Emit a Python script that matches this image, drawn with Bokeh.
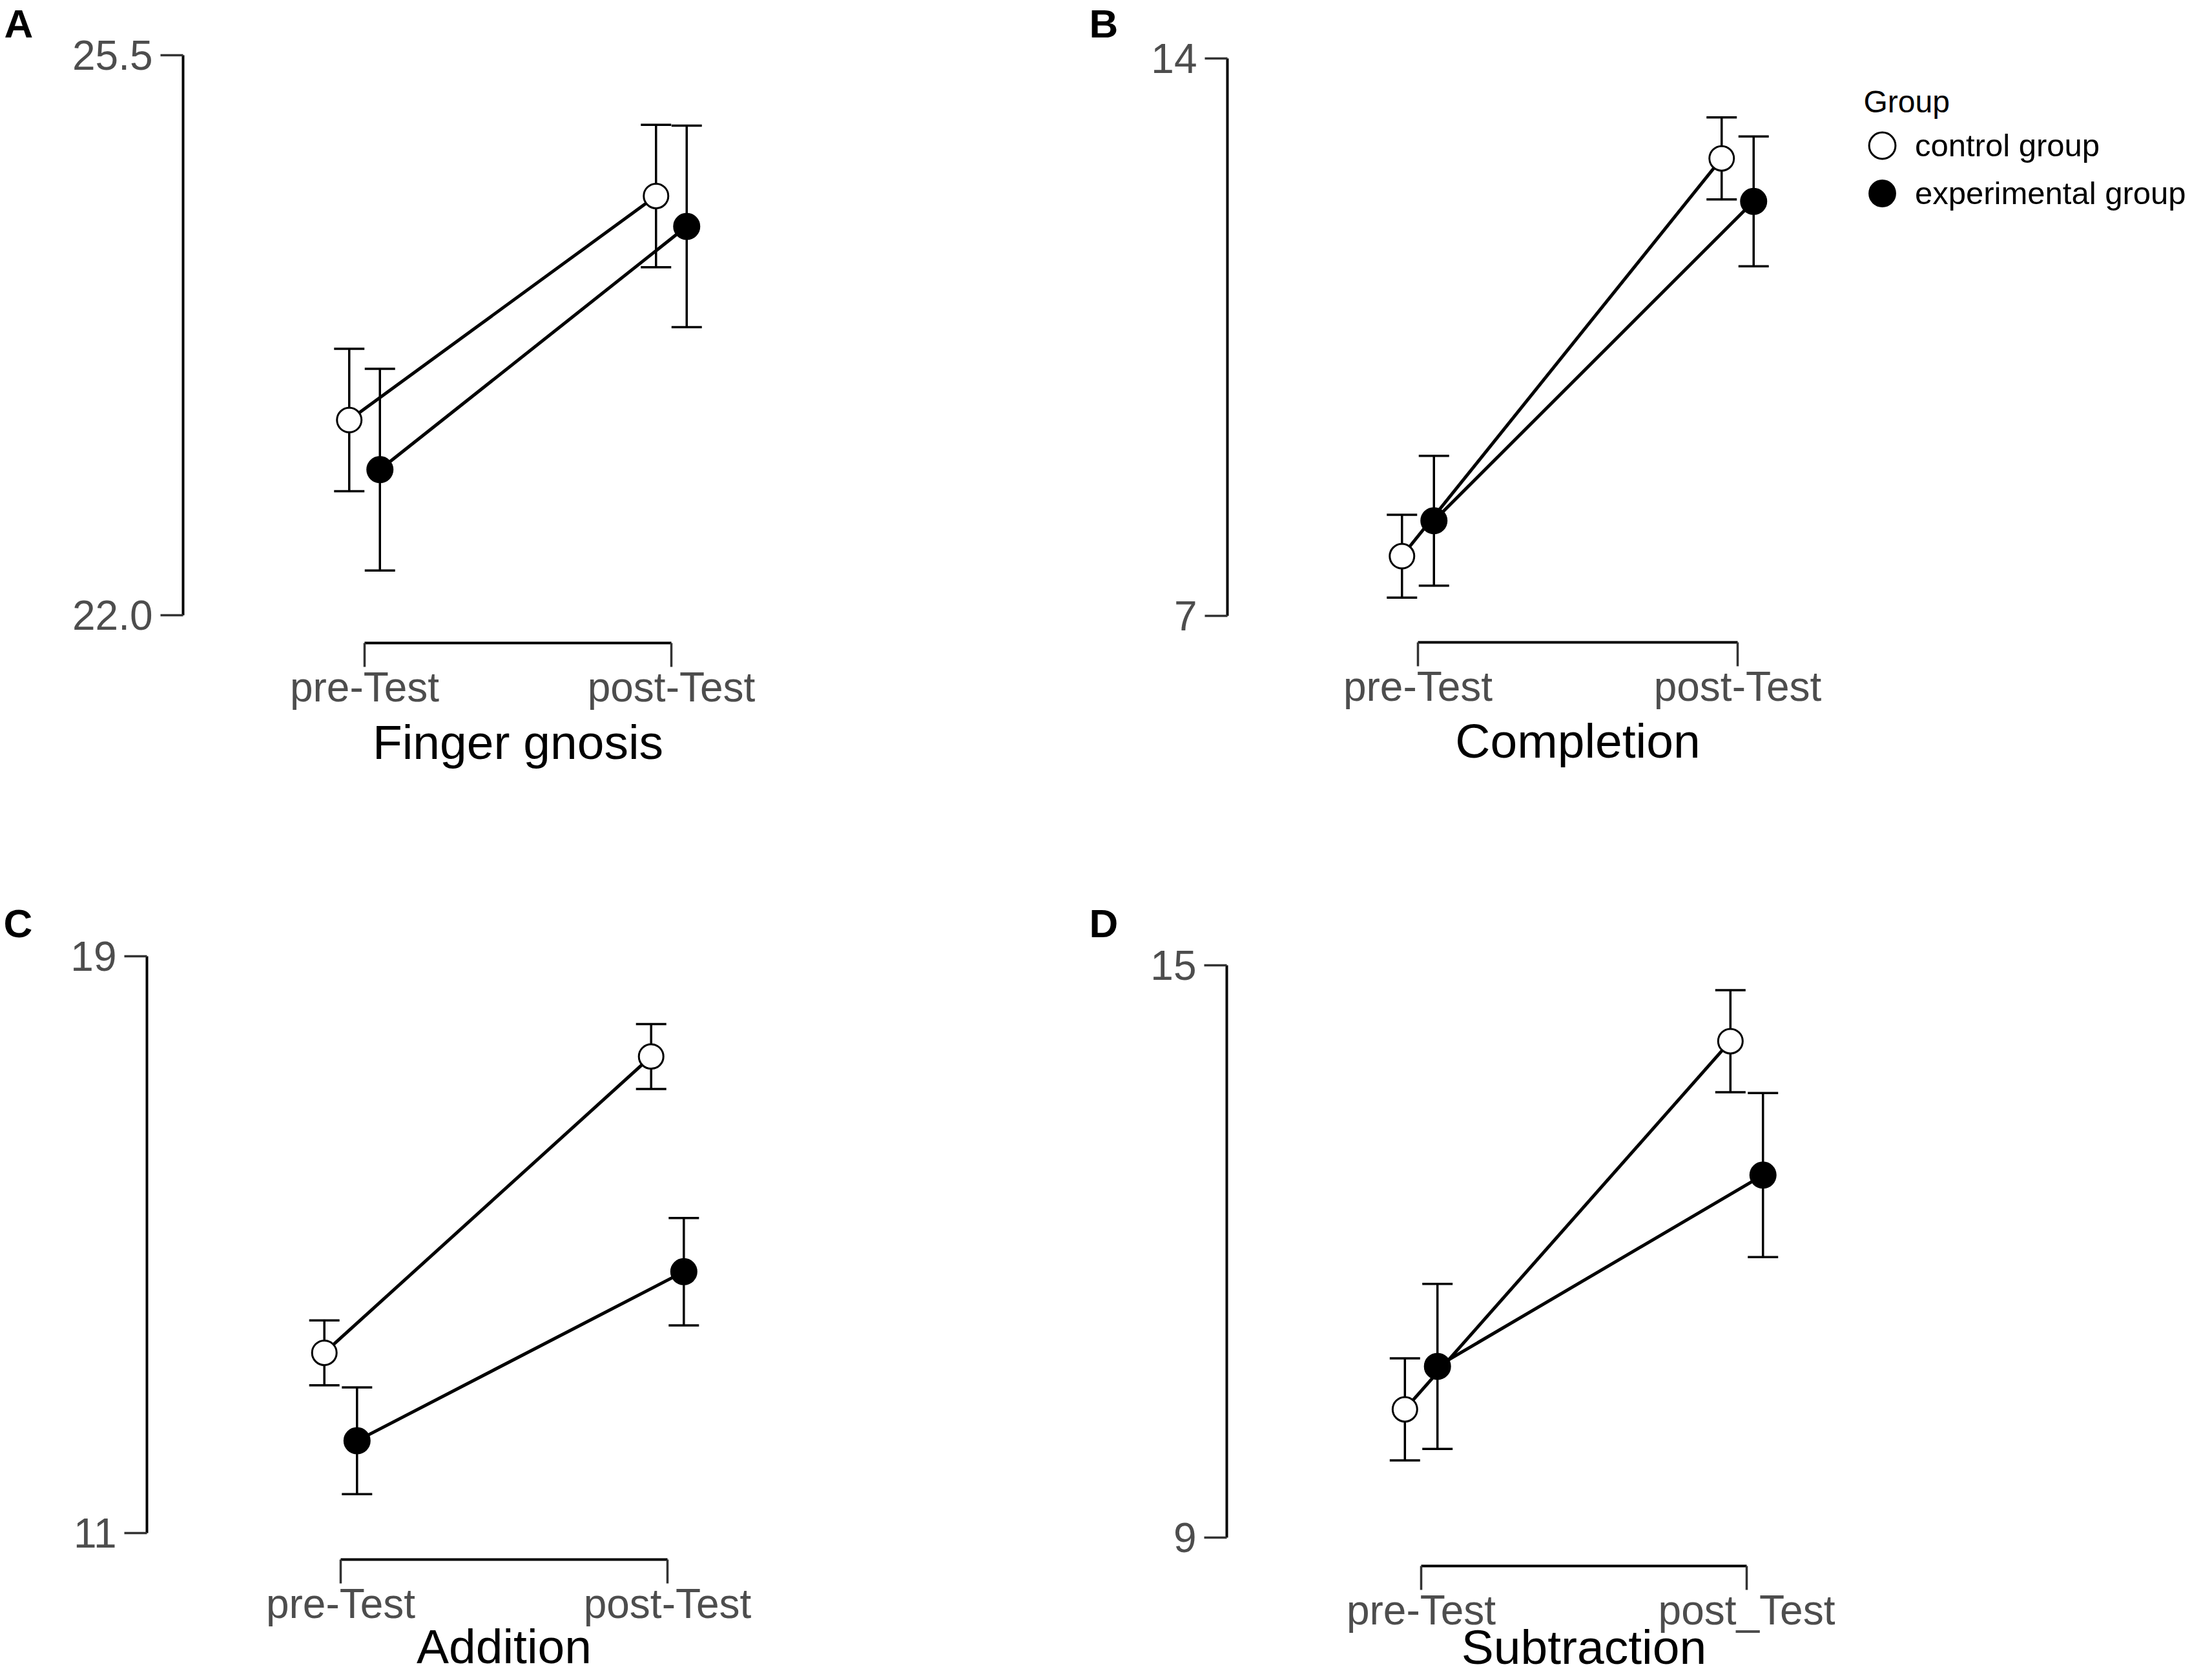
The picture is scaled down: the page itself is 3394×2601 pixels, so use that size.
import numpy as np
from bokeh.plotting import figure
from bokeh.layouts import column, row
from bokeh.models import (Range1d, FixedTicker, Whisker, TeeHead, ColumnDataSource,
                          Label, Legend, LegendItem, PrintfTickFormatter)
from bokeh.embed import file_html
from bokeh.resources import INLINE

# ---------------- data ----------------
groups = ["control group", "experimental group"]
legend_title = "Group"
phase_idx = [1, 2]

# A: Finger gnosis
a_letter = "A"
a_title = "Finger gnosis"
a_phases = ["pre-Test", "post-Test"]
a_yticks = [22.0, 25.5]
a_ytick_labels = ["22.0", "25.5"]
a_ctrl_mean = [23.22, 24.62]
a_ctrl_ci = [0.445, 0.445]
a_exp_mean = [22.91, 24.43]
a_exp_ci = [0.63, 0.63]

# B: Completion
b_letter = "B"
b_title = "Completion"
b_phases = ["pre-Test", "post-Test"]
b_yticks = [7, 14]
b_ytick_labels = ["7", "14"]
b_ctrl_mean = [7.75, 12.745]
b_ctrl_ci = [0.52, 0.515]
b_exp_mean = [8.195, 12.205]
b_exp_ci = [0.815, 0.815]

# C: Addition
c_letter = "C"
c_title = "Addition"
c_phases = ["pre-Test", "post-Test"]
c_yticks = [11, 19]
c_ytick_labels = ["11", "19"]
c_ctrl_mean = [13.50, 17.61]
c_ctrl_ci = [0.45, 0.45]
c_exp_mean = [12.28, 14.625]
c_exp_ci = [0.74, 0.745]

# D: Subtraction
d_letter = "D"
d_title = "Subtraction"
d_phases = ["pre-Test", "post_Test"]
d_yticks = [9, 15]
d_ytick_labels = ["9", "15"]
d_ctrl_mean = [10.345, 14.205]
d_ctrl_ci = [0.535, 0.535]
d_exp_mean = [10.795, 12.80]
d_exp_ci = [0.865, 0.86]

# ---------------- styling / layout ----------------
FONT = "Liberation Sans"
TICK_GRAY = "#4d4d4d"
DODGE = 0.05
TICK_FS = 64
TITLE_FS = 75
LETTER_FS = 62
LEG_FS = 49
GROUP_FS = 48
BASE_SHIFT = 0.33  # empirical baseline correction, in em

# geometry in page pixels
GEO = {
    "A": dict(fig=(0, 0, 1640, 1390), axis_x=283, axis_y=995, cats=(564, 1039),
              ypx=(952, 85), letter=(6, 56), title_base=1173),
    "B": dict(fig=(1640, 0, 1752, 1390), axis_x=1900, axis_y=994, cats=(2195, 2690),
              ypx=(953, 90), letter=(1686, 56), title_base=1171),
    "C": dict(fig=(0, 1390, 1640, 1209), axis_x=227, axis_y=2414, cats=(527, 1033),
              ypx=(2373, 1480), letter=(5, 1449), title_base=2573),
    "D": dict(fig=(1640, 1390, 1752, 1209), axis_x=1899, axis_y=2424, cats=(2200, 2704),
              ypx=(2380, 1494), letter=(1686, 1449), title_base=2574),
}
LEG = dict(title_x=2885, title_base=173, glyph_left=2863, bottoms=(276, 350))


def make_panel(key, letter, title, phases, yticks, ylabels, ctrl_mean, ctrl_ci,
               exp_mean, exp_ci, legend=False):
    g = GEO[key]
    fx, fy, fw, fh = g["fig"]
    c1, c2 = g["cats"]
    p_lo, p_hi = g["ypx"]
    kx = (c2 - c1) / (phase_idx[1] - phase_idx[0])
    ky = (p_lo - p_hi) / (yticks[1] - yticks[0])

    def xval(X):
        return phase_idx[0] + (X - c1) / kx

    def yval(Y):
        return yticks[0] + (p_lo - Y) / ky

    p = figure(width=fw, height=fh, title=None,
               x_range=Range1d(xval(fx), xval(fx + fw)),
               y_range=Range1d(yval(fy + fh), yval(fy)),
               output_backend="svg", toolbar_location=None, min_border=0)
    p.xgrid.visible = False
    p.ygrid.visible = False
    p.outline_line_color = None
    p.background_fill_color = "white"
    p.border_fill_color = "white"

    # x axis (bracket)
    xa = p.xaxis[0]
    xa.fixed_location = yval(g["axis_y"])
    xa.ticker = FixedTicker(ticks=phase_idx)
    xa.bounds = (phase_idx[0], phase_idx[-1])
    xa.major_label_overrides = {i: lab for i, lab in zip(phase_idx, phases)}
    xa.major_tick_out = 37
    xa.major_tick_in = 0
    xa.minor_tick_out = 0
    xa.minor_tick_in = 0
    xa.axis_line_width = 4
    xa.axis_line_color = "black"
    xa.major_tick_line_width = 3.5
    xa.major_tick_line_color = "#333333"
    xa.major_label_text_font = FONT
    xa.major_label_text_font_size = f"{TICK_FS}px"
    xa.major_label_text_color = TICK_GRAY
    xa.major_label_standoff = -5

    # y axis
    ya = p.yaxis[0]
    ya.fixed_location = xval(g["axis_x"])
    ya.ticker = FixedTicker(ticks=yticks)
    ya.bounds = (yticks[0], yticks[-1])
    ya.formatter = PrintfTickFormatter(format="%.1f" if "." in ylabels[0] else "%d")
    ya.major_label_overrides = {v: lab for v, lab in zip(yticks, ylabels)}
    ya.major_tick_out = 35
    ya.major_tick_in = 0
    ya.minor_tick_out = 0
    ya.minor_tick_in = 0
    ya.axis_line_width = 4
    ya.axis_line_color = "black"
    ya.major_tick_line_width = 3.5
    ya.major_tick_line_color = "#333333"
    ya.major_label_text_font = FONT
    ya.major_label_text_font_size = f"{TICK_FS}px"
    ya.major_label_text_color = TICK_GRAY
    ya.major_label_standoff = 12

    ctrl_x = [x - DODGE for x in phase_idx]
    exp_x = [x + DODGE for x in phase_idx]
    src_c = ColumnDataSource(dict(x=ctrl_x, y=ctrl_mean,
                                  lo=[m - c for m, c in zip(ctrl_mean, ctrl_ci)],
                                  hi=[m + c for m, c in zip(ctrl_mean, ctrl_ci)]))
    src_e = ColumnDataSource(dict(x=exp_x, y=exp_mean,
                                  lo=[m - c for m, c in zip(exp_mean, exp_ci)],
                                  hi=[m + c for m, c in zip(exp_mean, exp_ci)]))
    for src in (src_c, src_e):
        w = Whisker(source=src, base="x", upper="hi", lower="lo", dimension="height",
                    level="underlay", line_width=3.5, line_color="black",
                    upper_head=TeeHead(size=47, line_width=3.5, line_color="black"),
                    lower_head=TeeHead(size=47, line_width=3.5, line_color="black"))
        p.add_layout(w)

    p.line("x", "y", source=src_c, line_width=5, line_color="black")
    p.line("x", "y", source=src_e, line_width=5, line_color="black")
    r_c = p.scatter("x", "y", source=src_c, size=38, fill_color="white",
                    line_color="black", line_width=3)
    r_e = p.scatter("x", "y", source=src_e, size=40, fill_color="black",
                    line_color="black", line_width=2)

    bottom = fy + fh
    # panel letter
    lx, lb = g["letter"]
    p.add_layout(Label(x=lx - fx, y=bottom - lb + BASE_SHIFT * LETTER_FS,
                       x_units="screen", y_units="screen",
                       text=letter, text_font=FONT, text_font_style="bold",
                       text_font_size=f"{LETTER_FS}px", text_color="black",
                       text_align="left", text_baseline="alphabetic"))
    # x title
    p.add_layout(Label(x=float(np.mean(phase_idx)),
                       y=bottom - g["title_base"] + BASE_SHIFT * TITLE_FS,
                       x_units="data", y_units="screen", text=title,
                       text_font=FONT, text_font_size=f"{TITLE_FS}px", text_color="black",
                       text_align="center", text_baseline="alphabetic"))

    if legend:
        p.add_layout(Label(x=LEG["title_x"] - fx,
                           y=bottom - LEG["title_base"] + BASE_SHIFT * GROUP_FS,
                           x_units="screen", y_units="screen",
                           text=legend_title, text_font=FONT,
                           text_font_size=f"{GROUP_FS}px",
                           text_color="black", text_align="left",
                           text_baseline="alphabetic"))
        for r, lab, lb_ in zip((r_c, r_e), groups, LEG["bottoms"]):
            leg = Legend(items=[LegendItem(label=lab, renderers=[r])],
                         location=(LEG["glyph_left"] - fx, bottom - lb_),
                         glyph_width=102, glyph_height=102, label_standoff=0,
                         padding=0, margin=0, spacing=0,
                         border_line_color=None, background_fill_alpha=0,
                         label_text_font=FONT, label_text_font_size=f"{LEG_FS}px",
                         label_text_color="black")
            p.add_layout(leg)
    return p


pA = make_panel("A", a_letter, a_title, a_phases, a_yticks, a_ytick_labels,
                a_ctrl_mean, a_ctrl_ci, a_exp_mean, a_exp_ci)
pB = make_panel("B", b_letter, b_title, b_phases, b_yticks, b_ytick_labels,
                b_ctrl_mean, b_ctrl_ci, b_exp_mean, b_exp_ci, legend=True)
pC = make_panel("C", c_letter, c_title, c_phases, c_yticks, c_ytick_labels,
                c_ctrl_mean, c_ctrl_ci, c_exp_mean, c_exp_ci)
pD = make_panel("D", d_letter, d_title, d_phases, d_yticks, d_ytick_labels,
                d_ctrl_mean, d_ctrl_ci, d_exp_mean, d_exp_ci)

layout = column(row(pA, pB), row(pC, pD))
open("out.html", "w").write(file_html(layout, INLINE, title="Pre/Post test means"))
